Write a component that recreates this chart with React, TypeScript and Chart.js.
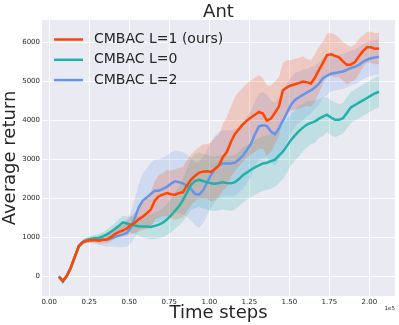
import React, { useEffect, useRef } from "react";
import { Chart, registerables } from "chart.js";

Chart.register(...registerables);

// ---------- data ----------
const steps = [
  6000, 8500, 11000, 13500, 16000, 18500, 21000, 23500, 26000, 28500,
  31000, 33500, 36000, 38500, 41000, 43500, 46000, 48500, 51000, 53500,
  56000, 58500, 61000, 63500, 66000, 68500, 71000, 73500, 76000, 78500,
  81000, 83500, 86000, 88500, 91000, 93500, 96000, 98500, 101000, 103500,
  106000, 108500, 111000, 113500, 116000, 118500, 121000, 123500, 126000, 128500,
  131000, 133500, 136000, 138500, 141000, 143500, 146000, 148500, 151000, 153500,
  156000, 158500, 161000, 163500, 166000, 168500, 171000, 173500, 176000, 178500,
  181000, 183500, 186000, 188500, 191000, 193500, 196000, 198500, 201000, 203500,
  206000,
];

// CMBAC L=1 (ours)
const l1Mean = [
  0, -110, 20, 230, 510, 780, 880, 920, 930, 935,
  920, 945, 950, 1010, 1090, 1140, 1180, 1230, 1320, 1380,
  1470, 1540, 1620, 1720, 1950, 2060, 2100, 2140, 2110, 2100,
  2140, 2160, 2330, 2480, 2580, 2660, 2690, 2700, 2680, 2760,
  2850, 3060, 3200, 3450, 3660, 3780, 3900, 4000, 4080, 4150,
  4220, 4180, 4000, 4050, 4200, 4360, 4780, 4850, 4900, 4930,
  4960, 5000, 4980, 4950, 5100, 5300, 5480, 5680, 5700, 5660,
  5620, 5520, 5430, 5440, 5500, 5650, 5780, 5880, 5880, 5840,
  5850,
];
const l1Std = [
  20, 30, 40, 50, 50, 50, 50, 60, 60, 70,
  80, 90, 100, 110, 120, 130, 150, 180, 220, 260,
  300, 350, 400, 450, 500, 550, 550, 600, 600, 650,
  650, 650, 650, 650, 650, 650, 700, 700, 750, 800,
  800, 850, 900, 900, 950, 950, 950, 950, 950, 950,
  950, 900, 900, 850, 800, 750, 700, 700, 650, 650,
  650, 650, 600, 600, 600, 600, 550, 550, 550, 550,
  500, 500, 500, 450, 450, 450, 400, 400, 400, 400,
  400,
];

// CMBAC L=0
const l0Mean = [
  0, -130, 10, 220, 500, 770, 880, 930, 960, 980,
  990, 1030, 1080, 1150, 1220, 1300, 1390, 1360, 1330, 1310,
  1290, 1280, 1280, 1270, 1300, 1330, 1380, 1460, 1560, 1680,
  1800, 1960, 2150, 2350, 2450, 2480, 2450, 2420, 2390, 2380,
  2400, 2420, 2400, 2390, 2420, 2500, 2600, 2670, 2740, 2800,
  2850, 2900, 2920, 2960, 3000, 3100, 3200, 3350, 3500, 3620,
  3730, 3820, 3900, 3940, 3980, 4050, 4100, 4150, 4080, 4020,
  4020, 4060, 4200, 4340, 4400, 4460, 4520, 4580, 4640, 4700,
  4740,
];
const l0Std = [
  20, 30, 40, 50, 50, 60, 60, 70, 80, 90,
  100, 110, 120, 130, 150, 160, 170, 180, 200, 220,
  250, 280, 300, 320, 340, 350, 370, 400, 430, 460,
  500, 550, 600, 650, 700, 700, 700, 700, 700, 700,
  700, 700, 700, 700, 700, 700, 700, 700, 700, 700,
  700, 700, 700, 700, 700, 700, 700, 700, 650, 650,
  650, 600, 600, 550, 550, 500, 500, 450, 450, 450,
  400, 400, 400, 400, 400, 400, 400, 400, 400, 400,
  400,
];

// CMBAC L=2
const l2Mean = [
  0, -120, 15, 225, 505, 785, 890, 930, 940, 940,
  935, 940, 945, 975, 1020, 1050, 1080, 1120, 1250, 1500,
  1780, 1950, 2030, 2120, 2200, 2200, 2250, 2300, 2380, 2440,
  2420, 2390, 2330, 2250, 2120, 2100, 2200, 2400, 2600, 2760,
  2860, 2900, 2900, 2900, 2920, 3000, 3100, 3250, 3400, 3650,
  3850, 3880, 3860, 3720, 3650, 3800, 4000, 4200, 4400, 4530,
  4600, 4660, 4720, 4780, 4850, 4950, 5090, 5150, 5200, 5220,
  5240, 5260, 5300, 5350, 5380, 5430, 5510, 5560, 5600, 5620,
  5640,
];
const l2Std = [
  20, 30, 40, 50, 50, 60, 60, 70, 80, 100,
  120, 150, 180, 200, 250, 300, 320, 350, 400, 500,
  600, 700, 750, 800, 800, 800, 800, 800, 800, 800,
  800, 800, 800, 800, 800, 850, 850, 850, 850, 850,
  850, 850, 850, 850, 850, 850, 850, 850, 850, 850,
  850, 850, 800, 800, 800, 800, 750, 750, 700, 700,
  650, 650, 600, 600, 550, 550, 500, 500, 450, 450,
  450, 450, 450, 450, 450, 450, 450, 450, 450, 450,
  450,
];

const seriesLabels = ["CMBAC L=1 (ours)", "CMBAC L=0", "CMBAC L=2"];

const xTickValues = [0, 25000, 50000, 75000, 100000, 125000, 150000, 175000, 200000];
const xTickLabels = ["0.00", "0.25", "0.50", "0.75", "1.00", "1.25", "1.50", "1.75", "2.00"];
const yTickValues = [0, 1000, 2000, 3000, 4000, 5000, 6000];
const yTickLabels = ["0", "1000", "2000", "3000", "4000", "5000", "6000"];

const chartTitle = "Ant";
const xTitle = "Time steps";
const yTitle = "Average return";
const xOffsetLabel = "1e5";

// ---------- style ----------
const FONT = "'DejaVu Sans', sans-serif";
const TEXT = "#262626";
const LINE_COLORS = ["#FF4500", "#20B2AA", "#6495ED"];
const BAND_COLORS = ["rgba(255,69,0,0.2)", "rgba(32,178,170,0.2)", "rgba(100,149,237,0.2)"];

export default function App() {
  const ref = useRef<HTMLCanvasElement>(null);

  useEffect(() => {
    if (!ref.current) return;
    const means = [l1Mean, l0Mean, l2Mean];
    const stds = [l1Std, l0Std, l2Std];

    const lineSets: any[] = means.map((m, k) => ({
      label: seriesLabels[k],
      data: m.map((v, i) => ({ x: steps[i], y: v })),
      borderColor: LINE_COLORS[k],
      backgroundColor: LINE_COLORS[k],
      borderWidth: 2.5,
      pointRadius: 0,
      fill: false,
      tension: 0,
    }));
    const bandSets: any[] = [];
    means.forEach((m, k) => {
      bandSets.push({
        label: seriesLabels[k] + " upper",
        data: m.map((v, i) => ({ x: steps[i], y: v + stds[k][i] })),
        borderColor: "rgba(0,0,0,0)",
        backgroundColor: BAND_COLORS[k],
        borderWidth: 1,
        pointRadius: 0,
        fill: false,
        tension: 0,
      });
      bandSets.push({
        label: seriesLabels[k] + " lower",
        data: m.map((v, i) => ({ x: steps[i], y: v - stds[k][i] })),
        borderColor: "rgba(0,0,0,0)",
        backgroundColor: BAND_COLORS[k],
        borderWidth: 1,
        pointRadius: 0,
        fill: "-1",
        tension: 0,
      });
    });

    const decor = {
      id: "decor",
      beforeDraw(chart: any) {
        const { ctx, chartArea: a } = chart;
        ctx.save();
        ctx.fillStyle = "#FFFFFF";
        ctx.fillRect(0, 0, chart.width, chart.height);
        ctx.fillStyle = "#EAEAF2";
        ctx.fillRect(a.left, a.top, a.right - a.left, a.bottom - a.top);
        ctx.restore();
      },
      afterDraw(chart: any) {
        const { ctx, chartArea: a } = chart;
        ctx.save();
        // title
        ctx.fillStyle = TEXT;
        ctx.font = `18px ${FONT}`;
        ctx.textAlign = "center";
        ctx.textBaseline = "alphabetic";
        ctx.fillText(chartTitle, (a.left + a.right) / 2, 17);
        // offset label
        ctx.font = `5.5px ${FONT}`;
        ctx.textAlign = "right";
        ctx.fillText(xOffsetLabel, a.right, 310);
        // legend
        ctx.font = `14px ${FONT}`;
        ctx.textAlign = "left";
        ctx.textBaseline = "middle";
        for (let k = 0; k < 3; k++) {
          const y = a.top + 19.5 + k * 20.3;
          ctx.strokeStyle = LINE_COLORS[k];
          ctx.lineWidth = 2.5;
          ctx.beginPath();
          ctx.moveTo(a.left + 12, y);
          ctx.lineTo(a.left + 41, y);
          ctx.stroke();
          ctx.fillStyle = TEXT;
          ctx.fillText(seriesLabels[k], a.left + 52, y);
        }
        ctx.restore();
      },
    };

    const chart = new Chart(ref.current, {
      type: "line",
      data: { datasets: [...lineSets, ...bandSets] },
      options: {
        responsive: false,
        animation: false,
        layout: { padding: { top: 20, right: 4, left: 0, bottom: 0 } },
        plugins: {
          legend: { display: false },
          title: { display: false },
          tooltip: { enabled: false },
          filler: { drawTime: "beforeDatasetsDraw" },
        },
        scales: {
          x: {
            type: "linear",
            min: -4500,
            max: 216000,
            afterBuildTicks: (axis: any) => {
              axis.ticks = xTickValues.map((v) => ({ value: v }));
            },
            afterFit: (scale: any) => {
              scale.height = 29;
            },
            grid: { color: "#FFFFFF", lineWidth: 1, drawTicks: false },
            border: { display: false },
            ticks: {
              padding: 2,
              color: TEXT,
              font: { family: FONT, size: 7 },
              maxRotation: 0,
              autoSkip: false,
              callback: (_v: any, i: number) => xTickLabels[i],
            },
            title: {
              display: true,
              text: xTitle,
              color: TEXT,
              font: { family: FONT, size: 18 },
              padding: { top: 0, bottom: 1 },
            },
          },
          y: {
            type: "linear",
            min: -500,
            max: 6580,
            afterBuildTicks: (axis: any) => {
              axis.ticks = yTickValues.map((v) => ({ value: v }));
            },
            afterFit: (scale: any) => {
              scale.width = 42;
            },
            grid: { color: "#FFFFFF", lineWidth: 1, drawTicks: false },
            border: { display: false },
            ticks: {
              padding: 2,
              color: TEXT,
              font: { family: FONT, size: 7 },
              autoSkip: false,
              callback: (_v: any, i: number) => yTickLabels[i],
            },
            title: {
              display: true,
              text: yTitle,
              color: TEXT,
              font: { family: FONT, size: 18 },
              padding: { top: 0, bottom: 0 },
            },
          },
        },
      },
      plugins: [decor],
    } as any);

    return () => chart.destroy();
  }, []);

  return (
    <div style={{ position: "absolute", left: 0, top: 0, width: 399, height: 325, background: "#fff" }}>
      <canvas ref={ref} width={399} height={325} style={{ display: "block", width: 399, height: 325 }} />
    </div>
  );
}
